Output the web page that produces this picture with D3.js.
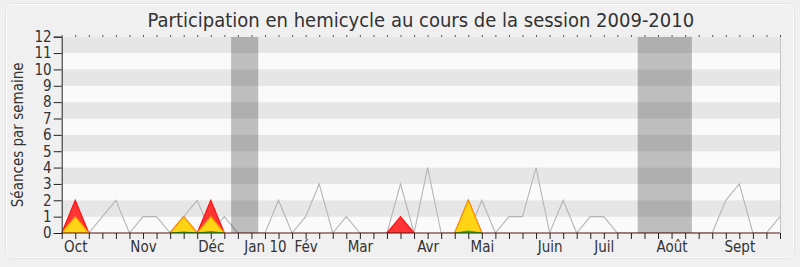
<!DOCTYPE html>
<html>
<head>
<meta charset="utf-8">
<script src="https://cdn.jsdelivr.net/npm/d3@7/dist/d3.min.js"></script>
<style>
  html, body { margin: 0; padding: 0; background: #f0f0f0; }
  svg { display: block; }
  text { font-family: "DejaVu Sans Condensed", "DejaVu Sans", sans-serif; fill: #333; }
</style>
</head>
<body>
<svg id="chart" width="800" height="267"></svg>
<script>
// Weekly sessions, one value per week of the 2009-2010 session (week 0 = end of Sept 2009)
const hemicycleSessions = [0,0,0,1,2,0,1,1,0,1,2,0,1,0,0,0,2,0,1,3,0,1,0,0,0,3,0,4,0,0,0,2,0,1,1,4,0,2,0,1,1,0,0,0,0,0,0,0,0,2,3,0,0,1];
const presences = [0,2,0,0,0,0,0,0,0,1,0,2,0,0,0,0,0,0,0,0,0,0,0,0,0,1,0,0,0,0,2,0,0,0,0,0,0,0,0,0,0,0,0,0,0,0,0,0,0,0,0,0,0,0];
const interventions = [0,1,0,0,0,0,0,0,0,1,0,1,0,0,0,0,0,0,0,0,0,0,0,0,0,0,0,0,0,0,2,0,0,0,0,0,0,0,0,0,0,0,0,0,0,0,0,0,0,0,0,0,0,0];
const questions = [0,0,0,0,0,0,0,0,0,0.05,0,0.08,0,0,0,0,0,0,0,0,0,0,0,0,0,0,0,0,0,0,0.12,0,0,0,0,0,0,0,0,0,0,0,0,0,0,0,0,0,0,0,0,0,0,0];

// Month labels and the week they sit on
const monthLabels = ["Oct","Nov","Déc","Jan 10","Fév","Mar","Avr","Mai","Juin","Juil","Août","Sept"];
const monthWeeks = [1,6,11,15,18,22,27,31,36,40,45,50];

// Parliamentary holidays (first and last week covered)
const holidayStart = [13, 43];
const holidayEnd = [14, 46];

const yTicks = d3.range(0, 13);
const nWeeks = hemicycleSessions.length;

const svg = d3.select("#chart");
const W = 800, H = 267;
const mLeft = 61.7, mRight = 780, mTop = 36.7, mBottom = 233;

const x = d3.scaleLinear().domain([0, nWeeks - 1]).range([mLeft, mRight]);
const y = d3.scaleLinear().domain([0, 12]).range([mBottom, mTop]);
const step = x(1) - x(0);

// frame
svg.append("rect").attr("x", 0).attr("y", 0).attr("width", W).attr("height", H).attr("fill", "#f0f0f0");
svg.append("rect").attr("x", 6.5).attr("y", 4.5).attr("width", 787).attr("height", 253)
  .attr("rx", 5).attr("fill", "none").attr("stroke", "#fcfcfc").attr("stroke-width", 1);
svg.append("rect").attr("x", 5.5).attr("y", 3.5).attr("width", 789).attr("height", 255)
  .attr("rx", 6).attr("fill", "none").attr("stroke", "#e2e2e2").attr("stroke-width", 1);

svg.append("defs").append("clipPath").attr("id", "plot")
  .append("rect").attr("x", mLeft).attr("y", mTop).attr("width", mRight - mLeft).attr("height", mBottom - mTop);

const plot = svg.append("g").attr("clip-path", "url(#plot)");

// alternating horizontal stripes, one per unit
plot.selectAll("rect.stripe").data(yTicks.slice(0, 12)).join("rect")
  .attr("class", "stripe")
  .attr("x", mLeft).attr("width", mRight - mLeft)
  .attr("y", d => y(d + 1)).attr("height", d => y(d) - y(d + 1))
  .attr("fill", d => d % 2 === 1 ? "#e6e6e6" : "#fafafa");

// total weekly sessions line
const line = d3.line().x((d, i) => x(i)).y(d => y(d));
plot.append("path").datum(hemicycleSessions)
  .attr("fill", "none").attr("stroke", "#b5b5b5").attr("stroke-width", 1.1)
  .attr("d", line);

const area = d3.area().x((d, i) => x(i)).y0(y(0)).y1(d => y(d));

// filled series, each outlined along its top edge where it rises above zero
const series = [
  { values: presences, fill: "#ff3535", stroke: "#ff1010" },
  { values: interventions, fill: "#ffd414", stroke: "#ff9a00" },
  { values: questions, fill: "#22dd22", stroke: "#00c800" }
];
series.forEach(s => {
  const v = s.values;
  const edge = d3.line().x((d, i) => x(i)).y(d => y(d))
    .defined((d, i) => d > 0 || (v[i - 1] || 0) > 0 || (v[i + 1] || 0) > 0);
  plot.append("path").datum(v).attr("fill", s.fill).attr("d", area);
  plot.append("path").datum(v).attr("fill", "none")
    .attr("stroke", s.stroke).attr("stroke-width", 1.2)
    .attr("d", edge);
});

// holiday bands
plot.selectAll("rect.holiday").data(holidayStart).join("rect")
  .attr("class", "holiday")
  .attr("x", (d) => x(d) - step / 2)
  .attr("width", (d, i) => x(holidayEnd[i]) - x(d) + step)
  .attr("y", mTop).attr("height", mBottom - mTop)
  .attr("fill", "#000").attr("opacity", 0.24);

// right border
svg.append("line").attr("x1", mRight + 0.5).attr("x2", mRight + 0.5).attr("y1", mTop).attr("y2", mBottom)
  .attr("stroke", "#c4c4c4");

// baseline
svg.append("line").attr("x1", mLeft).attr("x2", mRight).attr("y1", mBottom).attr("y2", mBottom)
  .attr("stroke", "#5a1010").attr("stroke-width", 1.2);

// weekly ticks at bottom
const xAxis = svg.append("g").attr("transform", `translate(0,${mBottom})`)
  .call(d3.axisBottom(x).tickValues(d3.range(nWeeks)).tickSize(6).tickFormat(""));
xAxis.select(".domain").remove();
xAxis.selectAll(".tick line").attr("stroke", "#222");

// dotted weekly marks along the top
const xTop = svg.append("g").attr("transform", `translate(0,${mTop})`)
  .call(d3.axisTop(x).tickValues(d3.range(nWeeks)).tickSize(1.5).tickFormat(""));
xTop.select(".domain").remove();
xTop.selectAll(".tick line").attr("stroke", "#222");

// month labels
const xMonths = svg.append("g").attr("transform", `translate(0,${mBottom})`)
  .call(d3.axisBottom(x).tickValues(monthWeeks).tickSize(0).tickPadding(8)
    .tickFormat((d, i) => monthLabels[i]));
xMonths.select(".domain").remove();
xMonths.selectAll("text").attr("font-size", 15).attr("fill", "#333")
  .attr("font-family", "DejaVu Sans Condensed, DejaVu Sans, sans-serif");

// y axis
const yAxis = svg.append("g").attr("transform", `translate(${mLeft},0)`)
  .call(d3.axisLeft(y).tickValues(yTicks).tickSize(8).tickPadding(2));
yAxis.select(".domain").attr("stroke", "#222");
yAxis.selectAll(".tick line").attr("stroke", "#222");
yAxis.selectAll("text").attr("font-size", 15).attr("fill", "#333")
  .attr("font-family", "DejaVu Sans Condensed, DejaVu Sans, sans-serif");

// y axis title
svg.append("text")
  .attr("transform", `translate(23,${(mTop + mBottom) / 2}) rotate(-90)`)
  .attr("text-anchor", "middle")
  .attr("font-size", 15)
  .text("Séances par semaine");

// chart title
svg.append("text")
  .attr("x", (mLeft + mRight) / 2).attr("y", 27)
  .attr("text-anchor", "middle")
  .attr("font-size", 20)
  .text("Participation en hemicycle au cours de la session 2009-2010");
</script>
</body>
</html>
